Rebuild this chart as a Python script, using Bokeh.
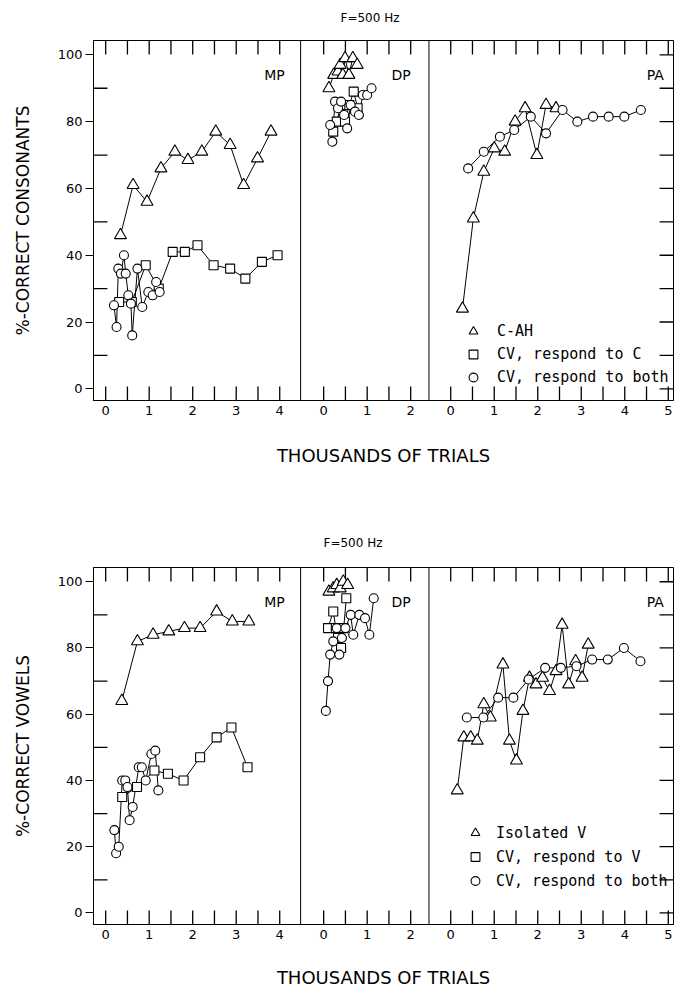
import numpy as np
from bokeh.plotting import figure
from bokeh.models import (Range1d, FixedTicker, LinearAxis, Span, Label,
                          Legend, LegendItem, Title)
from bokeh.layouts import column
from bokeh.embed import file_html
from bokeh.resources import INLINE

# ---------------- data: consonants (upper chart) ----------------
mp_c_tri_x = [0.34, 0.63, 0.95, 1.27, 1.59, 1.89, 2.21, 2.53, 2.86, 3.17, 3.49, 3.80]
mp_c_tri_y = [46, 61, 56, 66, 71, 68.5, 71, 77, 73, 61, 69, 77]
mp_c_sq_x = [0.31, 0.60, 0.92, 1.22, 1.54, 1.82, 2.11, 2.48, 2.86, 3.21, 3.59, 3.95]
mp_c_sq_y = [26, 26, 37, 30, 41, 41, 43, 37, 36, 33, 38, 40]
mp_c_ci_x = [0.19, 0.25, 0.29, 0.35, 0.42, 0.46, 0.52, 0.58, 0.61, 0.73, 0.84, 0.98, 1.08, 1.16, 1.24]
mp_c_ci_y = [25, 18.5, 36, 34.5, 40, 34.5, 28, 25.5, 16, 36, 24.5, 29, 28, 32, 29]

dp_c_tri_x = [0.12, 0.23, 0.33, 0.38, 0.44, 0.49, 0.58, 0.67, 0.77]
dp_c_tri_y = [90, 94, 95, 97, 94, 99, 94, 99, 97]
dp_c_sq_x = [0.22, 0.30, 0.40, 0.49, 0.59, 0.69, 0.78]
dp_c_sq_y = [77, 80, 85, 80, 85, 89, 84]
dp_c_ci_x = [0.15, 0.20, 0.26, 0.33, 0.40, 0.47, 0.54, 0.62, 0.72, 0.81, 0.90, 1.00, 1.10]
dp_c_ci_y = [79, 74, 86, 84, 86, 82, 78, 85, 83, 82, 88, 88, 90]

pa_c_tri_x = [0.27, 0.52, 0.76, 1.00, 1.24, 1.48, 1.71, 1.98, 2.19, 2.42]
pa_c_tri_y = [24, 51, 65, 72, 71, 80, 84, 70, 85, 84]
pa_c_ci_x = [0.40, 0.76, 1.13, 1.46, 1.84, 2.19, 2.57, 2.91, 3.27, 3.63, 3.99, 4.37]
pa_c_ci_y = [66, 71, 75.5, 77.5, 81.5, 76.5, 83.5, 80, 81.5, 81.5, 81.5, 83.5]

# ---------------- data: vowels (lower chart) ----------------
mp_v_tri_x = [0.37, 0.73, 1.09, 1.45, 1.81, 2.17, 2.55, 2.91, 3.29]
mp_v_tri_y = [64, 82, 84, 85, 86, 86, 91, 88, 88]
mp_v_sq_x = [0.38, 0.72, 1.12, 1.43, 1.79, 2.17, 2.55, 2.89, 3.26]
mp_v_sq_y = [35, 38, 43, 42, 40, 47, 53, 56, 44]
mp_v_ci_x = [0.20, 0.24, 0.30, 0.38, 0.45, 0.50, 0.55, 0.62, 0.76, 0.83, 0.92, 1.05, 1.14, 1.21]
mp_v_ci_y = [25, 18, 20, 40, 40, 38, 28, 32, 44, 44, 40, 48, 49, 37]

dp_v_tri_x = [0.12, 0.22, 0.30, 0.38, 0.45, 0.55]
dp_v_tri_y = [97, 98, 99, 98, 100, 99]
dp_v_sq_x = [0.10, 0.22, 0.28, 0.33, 0.40, 0.46, 0.52]
dp_v_sq_y = [86, 91, 86, 83, 80, 86, 95]
dp_v_ci_x = [0.05, 0.10, 0.15, 0.22, 0.30, 0.36, 0.42, 0.50, 0.62, 0.68, 0.82, 0.95, 1.05, 1.15]
dp_v_ci_y = [61, 70, 78, 82, 86, 78, 83, 86, 90, 84, 90, 89, 84, 95]

pa_v_tri_x = [0.15, 0.30, 0.46, 0.61, 0.76, 0.91, 1.20, 1.35, 1.51, 1.66, 1.81, 1.96,
              2.11, 2.27, 2.42, 2.56, 2.71, 2.87, 3.02, 3.16]
pa_v_tri_y = [37, 53, 53, 52, 63, 59, 75, 52, 46, 61, 71, 69, 71, 67, 73, 87, 69, 76, 71, 81]
pa_v_ci_x = [0.37, 0.75, 1.09, 1.44, 1.79, 2.17, 2.53, 2.89, 3.25, 3.61, 3.98, 4.36]
pa_v_ci_y = [59, 59, 65, 65, 70.5, 74, 74, 74.5, 76.5, 76.5, 80, 76]

# ---------------- labels / ticks ----------------
panel_names = ["MP", "DP", "PA"]
panel_max_tick = {"MP": 4, "DP": 2, "PA": 5}
y_major = [0, 20, 40, 60, 80, 100]
y_minor = [10, 30, 50, 70, 90]
y_right = [0, 10, 20, 30, 40, 50, 60, 70, 80, 90, 100]
title_text = "F=500 Hz"
x_label = "THOUSANDS OF TRIALS"
y_label_top = "%-CORRECT CONSONANTS"
y_label_bottom = "%-CORRECT VOWELS"
legend_top = ["C-AH", "CV, respond to C", "CV, respond to both"]
legend_bottom = ["Isolated V", "CV, respond to V", "CV, respond to both"]

# panel x domains (thousands of trials)
RANGES = {"MP": (-0.28, 4.48), "DP": (-0.53, 2.42), "PA": (-0.5, 5.12)}
OFF = {"MP": 0.0}
OFF["DP"] = OFF["MP"] + RANGES["MP"][1] - RANGES["DP"][0]
OFF["PA"] = OFF["DP"] + RANGES["DP"][1] - RANGES["PA"][0]
XMIN, XMAX = RANGES["MP"][0], OFF["PA"] + RANGES["PA"][1]
YMIN, YMAX = -3.5, 104.3

FONT = "DejaVu Sans"
MONO = "DejaVu Sans Mono"


def build(height, bl, br, bt, bb, series, ylabel, leg_labels, leg_loc,
          leg_standoff, leg_glyph_h, xlab_standoff, title_offset, top_gap):
    p = figure(width=680, height=height,
               x_range=Range1d(XMIN, XMAX), y_range=Range1d(YMIN, YMAX),
               output_backend="svg", toolbar_location=None,
               min_border_left=bl, min_border_right=br,
               min_border_top=bt, min_border_bottom=bb)
    p.xgrid.visible = False
    p.ygrid.visible = False
    p.outline_line_color = "black"
    p.outline_line_width = 1
    p.outline_line_alpha = 1

    frame_w = 680 - bl - br
    frame_h = height - bt - bb
    ux = (XMAX - XMIN) / frame_w      # data units per pixel
    uy = (YMAX - YMIN) / frame_h

    # x ticks for the three sub-panels
    ticks, overrides = [], {}
    for name in panel_names:
        for k in range(2 * panel_max_tick[name] + 1):
            t = round(OFF[name] + k * 0.5, 4)
            ticks.append(t)
            overrides[t] = str(k // 2) if k % 2 == 0 else ""
    xa = p.xaxis[0]
    xa.ticker = FixedTicker(ticks=ticks)
    xa.major_label_overrides = overrides
    xa.major_tick_in = 0
    xa.major_tick_out = 0
    xa.minor_tick_line_color = None
    xa.major_label_standoff = 5
    xa.major_label_text_font = FONT
    xa.major_label_text_font_size = "13px"
    xa.major_label_text_color = "black"
    xa.axis_line_color = "black"
    xa.axis_label = x_label
    xa.axis_label_text_font = FONT
    xa.axis_label_text_font_size = "18px"
    xa.axis_label_text_font_style = "normal"
    xa.axis_label_text_color = "black"
    xa.axis_label_standoff = xlab_standoff

    # invisible spacer axis above (keeps the title at its distance)
    top = LinearAxis(ticker=FixedTicker(ticks=ticks),
                     major_label_overrides={t: "" for t in ticks},
                     major_label_text_font_size="1px", major_label_standoff=0,
                     major_tick_in=0, major_tick_out=top_gap,
                     minor_tick_line_color=None, axis_line_color=None,
                     major_tick_line_color=None)
    p.add_layout(top, "above")

    ya = p.yaxis[0]
    ya.ticker = FixedTicker(ticks=y_major, minor_ticks=y_minor)
    ya.major_tick_out = 8
    ya.major_tick_in = 0
    ya.minor_tick_in = 0
    ya.minor_tick_out = 0
    ya.major_tick_line_color = "black"
    ya.minor_tick_line_color = None
    ya.axis_line_color = "black"
    ya.major_label_standoff = 3
    ya.major_label_text_font = FONT
    ya.major_label_text_font_size = "13px"
    ya.major_label_text_color = "black"
    ya.axis_label = ylabel
    ya.axis_label_text_font = FONT
    ya.axis_label_text_font_size = "17px"
    ya.axis_label_text_font_style = "normal"
    ya.axis_label_text_color = "black"
    ya.axis_label_standoff = 22

    # inward tick marks (bottom, top, left minor, right) drawn as short lines
    tlen = 14
    txs, tys = [], []
    for t in ticks:
        txs.append([t, t]); tys.append([YMIN, YMIN + tlen * uy])
        txs.append([t, t]); tys.append([YMAX, YMAX - tlen * uy])
    for v in y_minor:
        txs.append([XMIN, XMIN + tlen * ux]); tys.append([v, v])
    for v in y_right:
        txs.append([XMAX - tlen * ux, XMAX]); tys.append([v, v])
    for xs_, ys_ in zip(txs, tys):
        p.line(xs_, ys_, line_color="black", line_width=1.3)

    # panel separators
    for name in ["DP", "PA"]:
        p.add_layout(Span(location=OFF[name] + RANGES[name][0], dimension="height",
                          line_color="black", line_width=1))

    # lines first, markers afterwards
    for name, marker, xs, ys in series:
        p.line(np.array(xs) + OFF[name], ys, line_color="black", line_width=1)
    rend = {}
    sizes = {"triangle": 12, "square": 9, "circle": 9}
    for name, marker, xs, ys in series:
        rr = p.scatter(np.array(xs) + OFF[name], ys, marker=marker, size=sizes[marker],
                       fill_color="white", line_color="black", line_width=1.1)
        rend.setdefault(marker, rr)

    for name, xpos in [("MP", 3.88), ("DP", 1.78), ("PA", 4.7)]:
        p.add_layout(Label(x=OFF[name] + xpos, y=94, text=name, text_align="center",
                           text_baseline="middle", text_font=FONT,
                           text_font_size="14px", text_color="black"))

    items = [LegendItem(label=leg_labels[0], renderers=[rend["triangle"]]),
             LegendItem(label=leg_labels[1], renderers=[rend["square"]]),
             LegendItem(label=leg_labels[2], renderers=[rend["circle"]])]
    leg = Legend(items=items, location=leg_loc, orientation="vertical",
                 background_fill_alpha=0, border_line_color=None,
                 padding=0, margin=0, spacing=1,
                 glyph_width=22, glyph_height=leg_glyph_h, label_height=leg_glyph_h,
                 label_standoff=leg_standoff,
                 label_text_font=MONO, label_text_font_size="15px",
                 label_text_color="black")
    p.add_layout(leg)

    p.add_layout(Title(text=title_text, align="left", offset=title_offset,
                       standoff=8, text_font=FONT,
                       text_font_size="12px", text_font_style="normal",
                       text_color="black"), "above")
    return p


series_top = [("MP", "triangle", mp_c_tri_x, mp_c_tri_y),
              ("MP", "square", mp_c_sq_x, mp_c_sq_y),
              ("MP", "circle", mp_c_ci_x, mp_c_ci_y),
              ("DP", "triangle", dp_c_tri_x, dp_c_tri_y),
              ("DP", "square", dp_c_sq_x, dp_c_sq_y),
              ("DP", "circle", dp_c_ci_x, dp_c_ci_y),
              ("PA", "triangle", pa_c_tri_x, pa_c_tri_y),
              ("PA", "circle", pa_c_ci_x, pa_c_ci_y)]

series_bottom = [("MP", "triangle", mp_v_tri_x, mp_v_tri_y),
                 ("MP", "square", mp_v_sq_x, mp_v_sq_y),
                 ("MP", "circle", mp_v_ci_x, mp_v_ci_y),
                 ("DP", "triangle", dp_v_tri_x, dp_v_tri_y),
                 ("DP", "square", dp_v_sq_x, dp_v_sq_y),
                 ("DP", "circle", dp_v_ci_x, dp_v_ci_y),
                 ("PA", "triangle", pa_v_tri_x, pa_v_tri_y),
                 ("PA", "circle", pa_v_ci_x, pa_v_ci_y)]

p1 = build(484, 93, 3, 40, 84, series_top, y_label_top, legend_top,
           (369, 12), 13, 22, 27, 247, 12)
p2 = build(506, 90, 7, 83, 64, series_bottom, y_label_bottom, legend_bottom,
           (371, 32), 10, 23, 25, 230, 14)

layout = column(p1, p2, spacing=0)
open("out.html", "w").write(file_html(layout, INLINE))
